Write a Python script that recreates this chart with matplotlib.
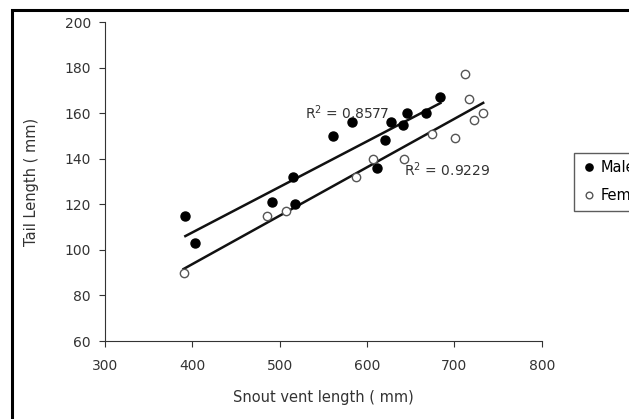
import numpy as np
import matplotlib
matplotlib.use('Agg')
import matplotlib.pyplot as plt
from matplotlib.patches import Rectangle

plt.rcParams['font.family'] = ['DejaVu Sans']

# snout vent length (mm) / tail length (mm)
male_svl = [392, 403, 491, 515, 518, 561, 583, 611, 621, 627, 641, 646, 668, 684]
male_tail = [115, 103, 121, 132, 120, 150, 156, 136, 148, 156, 155, 160, 160, 167]
female_svl = [390, 485, 507, 587, 607, 642, 674, 701, 712, 717, 723, 733]
female_tail = [90, 115, 117, 132, 140, 140, 151, 149, 177, 166, 157, 160]
r2_labels = ['R$^2$ = 0.8577', 'R$^2$ = 0.9229']

TXT = '#333333'

fig = plt.figure(figsize=(6.29, 4.19), dpi=100)
ax = fig.add_axes([105 / 629, 1 - 341 / 419, (541.7 - 105) / 629, (341 - 22) / 419])

ax.plot(male_svl, male_tail, 'o', color='black', markersize=6.5, label='Male', zorder=3)
ax.plot(female_svl, female_tail, 'o', markerfacecolor='white', markeredgecolor='#555555',
        markeredgewidth=1.0, markersize=6, label='Female', zorder=3)

# linear trend lines
for xs, ys in [(male_svl, male_tail), (female_svl, female_tail)]:
    k, b = np.polyfit(xs, ys, 1)
    xx = np.array([min(xs), max(xs)])
    ax.plot(xx, k * xx + b, color='#111111', lw=1.8, zorder=2)

ax.text(529, 160, r2_labels[0], fontsize=10, color=TXT, va='center', ha='left')
ax.text(642, 135, r2_labels[1], fontsize=10, color=TXT, va='center', ha='left')

ax.set_xlim(300, 800)
ax.set_ylim(60, 200)
ax.set_xticks(np.arange(300, 801, 100))
ax.set_yticks(np.arange(60, 201, 20))
ax.spines['top'].set_visible(False)
ax.spines['right'].set_visible(False)
ax.spines['left'].set_color('#333333')
ax.spines['bottom'].set_color('#333333')
ax.tick_params(direction='out', length=4, color='#333333', labelsize=10, labelcolor=TXT)
ax.tick_params(axis='x', pad=9)
ax.tick_params(axis='y', pad=6)

ax.set_xlabel('Snout vent length ( mm)', fontsize=10.5, color=TXT)
ax.set_ylabel('Tail Length ( mm)', fontsize=10.5, color=TXT)
ax.xaxis.set_label_coords(0.5, -0.155)
ax.yaxis.set_label_coords(-0.152, 0.5)

leg = fig.legend(loc='upper left', bbox_to_anchor=(574 / 629, 1 - 153 / 419),
                 borderaxespad=0, frameon=True, fancybox=False, edgecolor='#333333',
                 fontsize=10.5, handletextpad=0.3, handlelength=1.0, borderpad=0.5,
                 labelspacing=0.9, markerscale=0.8)
leg.get_frame().set_linewidth(1.0)

# outer frame, cut off on the right and bottom
fig.patches.append(Rectangle((12 / 629, -0.1), 1.2, 1.1 - 10 / 419, transform=fig.transFigure,
                             fill=False, edgecolor='black', linewidth=2.2))

fig.savefig('out.png', dpi=100)
